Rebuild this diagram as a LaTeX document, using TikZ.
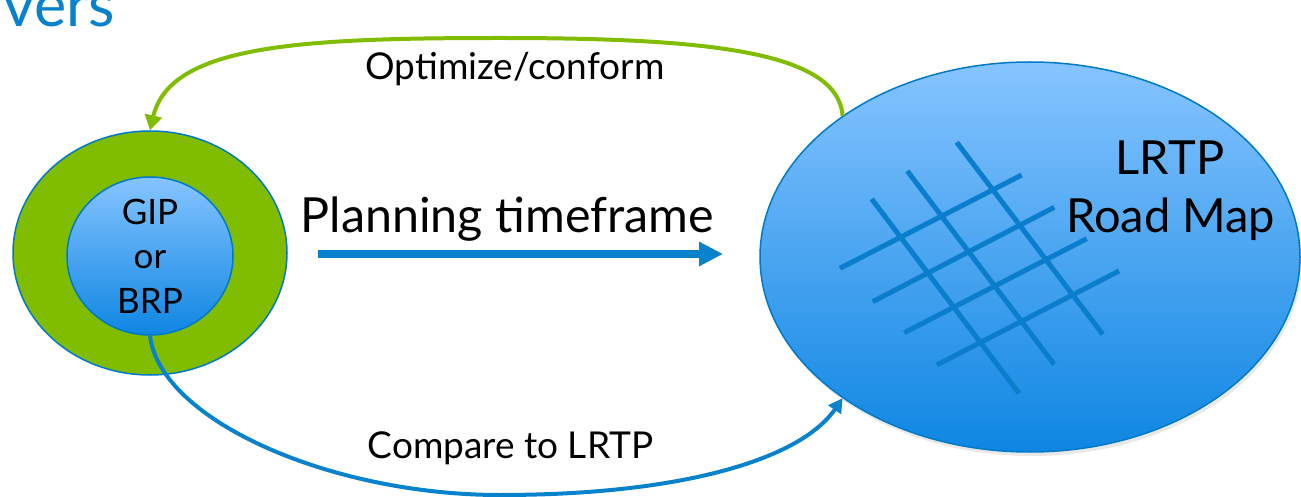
\documentclass[tikz,border=0pt]{standalone}
\usepackage{fontspec}
\setmainfont{Lato}
\usetikzlibrary{arrows.meta,shapes.geometric,shadows}
\definecolor{grn}{RGB}{128,188,0}
\definecolor{bln}{RGB}{8,130,204}
\definecolor{bltop}{RGB}{134,196,255}
\definecolor{blbot}{RGB}{14,134,226}
\definecolor{bord}{RGB}{0,122,200}
\definecolor{roadc}{RGB}{10,126,204}
\begin{document}
\begin{tikzpicture}[x=0.5pt,y=-0.5pt,
  ell/.style={ellipse, inner sep=0pt, draw=bord, line width=0.75pt},
  blgrad/.style={top color=bltop, bottom color=blbot},
  lbl/.style={anchor=base, inner sep=0pt, text=black},
  road/.style={line width=2.5pt, draw=roadc},
  conn/.style={line width=2pt}]
\useasboundingbox (0,0) rectangle (1301,497);
% title fragment
\node[anchor=base west, inner sep=0pt, text=bln, font=\fontsize{30.5}{36}\selectfont] (title) at (3,27) {vers};
% left rings
\node[ell, fill=grn, minimum width=137pt, minimum height=122pt] (outer) at (150,253) {};
\node[ell, blgrad, minimum width=83pt, minimum height=79pt] (inner) at (150,256) {};
\node[align=center, inner sep=0pt, font=\fontsize{17.5}{22.25}\selectfont] (gip) at (150,256) {GIP\\or\\BRP};
% big ellipse
\node[ell, blgrad, minimum width=270pt, minimum height=195pt,
      drop shadow={opacity=0.18, shadow xshift=1pt, shadow yshift=-2pt}] (big) at (1030,257) {};
% road grid
\draw[road] (840,268.3) -- (1021.7,175);
\draw[road] (872.7,301.7) -- (1054.3,207.3);
\draw[road] (904.3,332.7) -- (1086.7,238.7);
\draw[road] (936.8,365) -- (1119,271);
\draw[road] (871.7,199) -- (1019,393.3);
\draw[road] (907.3,171) -- (1054.1,364.3);
\draw[road] (956.7,142.3) -- (1102.7,334.3);
\node[lbl, font=\fontsize{23.5}{28}\selectfont] (lrtp) at (1170,175) {LRTP};
\node[lbl, font=\fontsize{23.5}{28}\selectfont] (road) at (1170.5,233) {Road Map};
% connectors
\draw[conn, grn, -{Triangle[length=7.5pt,width=8.5pt]}] (big.143) .. controls (838,50) and (700,38) .. (500,38) .. controls (300,38) and (170,45) .. (outer.north);
\draw[conn, bln, -{Triangle[length=7pt,width=7.5pt]}] (inner.south) .. controls (160,420) and (330,495) .. (500,495) .. controls (680,495) and (800,460) .. (big.217);
\coordinate (ps) at (318,254);
\coordinate (pe) at (723,254);
\draw[bln, line width=4pt, -{Triangle[length=12pt,width=11.5pt]}] (ps) -- (pe);
% labels
\node[lbl, font=\fontsize{24.2}{28}\selectfont] (plan) at (507.5,233) {Planning timeframe};
\node[lbl, font=\fontsize{18.5}{22}\selectfont] (opt) at (515,79.3) {Optimize/conform};
\node[lbl, font=\fontsize{18.5}{22}\selectfont] (cmp) at (510.5,458) {Compare to LRTP};
\end{tikzpicture}
\end{document}
